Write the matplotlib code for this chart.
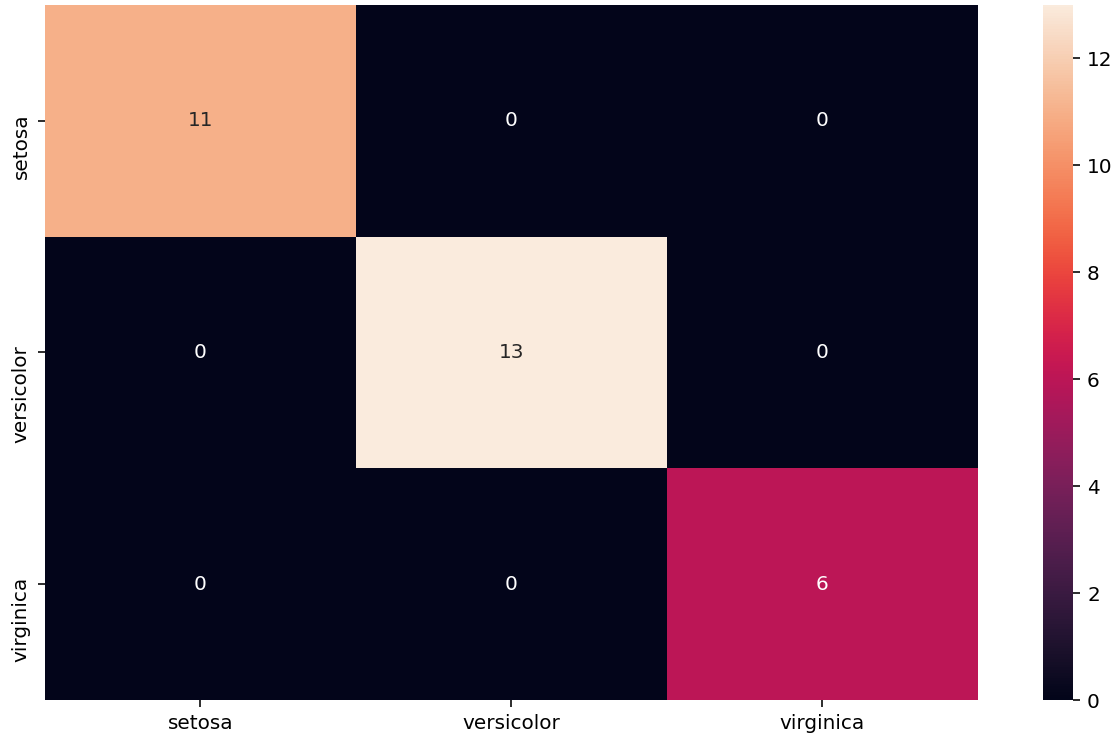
import numpy as np
import matplotlib
matplotlib.use("Agg")
import matplotlib.pyplot as plt
import seaborn as sns

# confusion matrix of the iris classifier
labels = ["setosa", "versicolor", "virginica"]
row_setosa = [11, 0, 0]
row_versicolor = [0, 13, 0]
row_virginica = [0, 0, 6]

cm = np.array([row_setosa, row_versicolor, row_virginica])

dpi = 144
fig = plt.figure(figsize=(1119 / dpi, 742 / dpi), dpi=dpi)
ax = fig.add_axes([0.040, 0.0566, 0.834, 0.937])
cax = fig.add_axes([0.932, 0.0566, 0.027, 0.937])

sns.heatmap(cm, annot=True, fmt="d", cmap="rocket", ax=ax, cbar_ax=cax,
            xticklabels=labels, yticklabels=labels,
            annot_kws={"fontsize": 10})

ax.tick_params(labelsize=10)
cax.tick_params(labelsize=10)
# older seaborn left the rotated y labels hanging below the tick
plt.setp(ax.get_yticklabels(), va="center_baseline")

plt.savefig("out.png", dpi=dpi)
plt.close()
